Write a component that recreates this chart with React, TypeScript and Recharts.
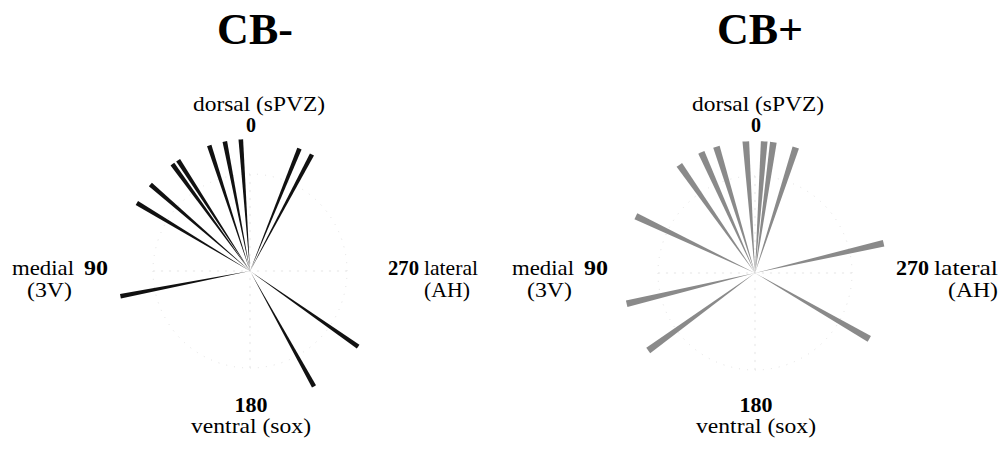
import React from "react";
import { PieChart, Pie } from "recharts";

// Spoke directions in degrees, measured from dorsal (0) counter-clockwise (90 = medial, 180 = ventral, 270 = lateral)
const cbMinusAngles = [4, 11, 18, 33, 36, 49, 59, 101, 209, 235, 332, 338];
const cbPlusAngles = [4, 17, 24, 35, 64.5, 103.5, 126, 240, 283, 342, 352, 356];
// Relative spoke length (all unit)
const spokeLength = 1;
// Faint orientation grid quadrants
const gridQuadrants = [1, 1, 1, 1];

const panelTitles = ["CB-", "CB+"];
const dorsalLabel = "dorsal (sPVZ)";
const ventralLabel = "ventral (sox)";
const medialLabel = "medial";
const lateralLabel = "lateral";
const medialSub = "(3V)";
const lateralSub = "(AH)";
const tickLabels = ["0", "90", "180", "270"];

const W = 1004;
const H = 471;
const R = 132;
const FONT = "'Liberation Serif', 'Times New Roman', Times, serif";

type PanelCfg = {
  cx: number;
  cy: number;
  angles: number[];
  color: string;
  half: number;
  title: string;
  titleX: number;
  dorsalX: number;
  medX: number;
  latX: number;
  latW: number;
  latEnd: number;
  ahW: number;
  n270W: number;
};

const panels: PanelCfg[] = [
  {
    cx: 250, cy: 271, angles: cbMinusAngles, color: "#111111", half: 1.0, title: panelTitles[0],
    titleX: 255, dorsalX: 259, medX: 12, latX: 388, latW: 54, latEnd: 470, ahW: 46, n270W: 31,
  },
  {
    cx: 755, cy: 273, angles: cbPlusAngles, color: "#8a8a8a", half: 1.45, title: panelTitles[1],
    titleX: 760, dorsalX: 758, medX: 512, latX: 896, latW: 64, latEnd: 998, ahW: 50, n270W: 33,
  },
];

function Labels({ p }: { p: PanelCfg }) {
  const base = { fill: "#000", style: { fontFamily: FONT } } as const;
  const m = p.medX;
  return (
    <g>
      <text x={p.titleX} y={44} textAnchor="middle" fontSize={44} fontWeight="bold" {...base}>
        {p.title}
      </text>
      <text x={p.dorsalX} y={111} textAnchor="middle" fontSize={21} textLength={132} lengthAdjust="spacingAndGlyphs" {...base}>
        {dorsalLabel}
      </text>
      <text x={p.cx + 1} y={132} textAnchor="middle" fontSize={20} fontWeight="bold" {...base}>
        {tickLabels[0]}
      </text>
      <text x={m} y={275} fontSize={21} textLength={62} lengthAdjust="spacingAndGlyphs" {...base}>
        {medialLabel}
      </text>
      <text x={m + 72} y={275} fontSize={21} fontWeight="bold" textLength={24} lengthAdjust="spacingAndGlyphs" {...base}>
        {tickLabels[1]}
      </text>
      <text x={m + 15} y={297} fontSize={21} textLength={45} lengthAdjust="spacingAndGlyphs" {...base}>
        {medialSub}
      </text>
      <text x={p.latX} y={275} fontSize={21} fontWeight="bold" textLength={p.n270W} lengthAdjust="spacingAndGlyphs" {...base}>
        {tickLabels[3]}
      </text>
      <text x={p.latX + p.n270W + 5} y={275} fontSize={21} textLength={p.latW} lengthAdjust="spacingAndGlyphs" {...base}>
        {lateralLabel}
      </text>
      <text x={p.latEnd} y={297} textAnchor="end" fontSize={21} textLength={p.ahW} lengthAdjust="spacingAndGlyphs" {...base}>
        {lateralSub}
      </text>
      <text x={p.cx + 1} y={412} textAnchor="middle" fontSize={20} fontWeight="bold" textLength={33} lengthAdjust="spacingAndGlyphs" {...base}>
        {tickLabels[2]}
      </text>
      <text x={p.cx + 1} y={433} textAnchor="middle" fontSize={21} textLength={120} lengthAdjust="spacingAndGlyphs" {...base}>
        {ventralLabel}
      </text>
    </g>
  );
}

export default function App() {
  const gridData = gridQuadrants.map((v, i) => ({ name: `q${i}`, v }));
  return (
    <div style={{ position: "absolute", left: 0, top: 0, width: W, height: H, background: "#fff" }}>
      <PieChart width={W} height={H} margin={{ top: 0, right: 0, bottom: 0, left: 0 }}>
        {panels.map((p, pi) => (
          <Pie
            key={`grid-${pi}`}
            data={gridData}
            dataKey="v"
            cx={p.cx}
            cy={p.cy}
            innerRadius={0}
            outerRadius={R - 35}
            startAngle={0}
            endAngle={360}
            fill="none"
            stroke="#e2e2e2"
            strokeWidth={1}
            strokeDasharray="1 7"
            isAnimationActive={false}
          />
        ))}
        {panels.flatMap((p, pi) =>
          p.angles.map((a, i) => (
            <Pie
              key={`s-${pi}-${i}`}
              data={[{ name: `${a}`, v: spokeLength }]}
              dataKey="v"
              cx={p.cx}
              cy={p.cy}
              innerRadius={0}
              outerRadius={R * spokeLength}
              startAngle={90 + a - p.half}
              endAngle={90 + a + p.half}
              fill={p.color}
              stroke="none"
              isAnimationActive={false}
            />
          ))
        )}
      </PieChart>
      <svg width={W} height={H} style={{ position: "absolute", left: 0, top: 0, pointerEvents: "none" }}>
        {panels.map((p, i) => (
          <Labels key={i} p={p} />
        ))}
      </svg>
    </div>
  );
}
